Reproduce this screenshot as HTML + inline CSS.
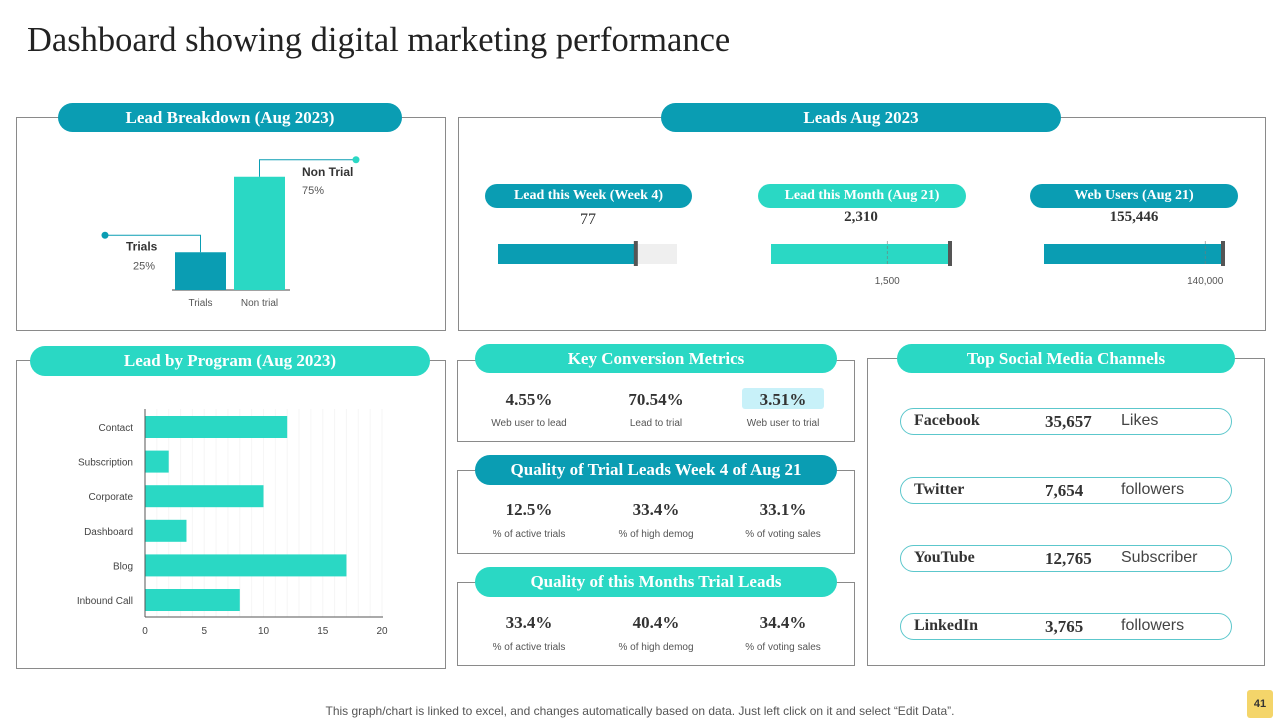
<!DOCTYPE html>
<html><head><meta charset="utf-8"><style>
body{margin:0;width:1280px;height:720px;background:#fff;position:relative;overflow:hidden;font-family:"Liberation Sans",sans-serif;color:#333}
.a{position:absolute}
.box{position:absolute;border:1px solid #8a8a8a;box-sizing:border-box}
.pill{position:absolute;border-radius:16px;color:#fff;font-family:"Liberation Serif",serif;font-weight:bold;display:flex;align-items:center;justify-content:center;font-size:17px;white-space:nowrap}
.dk{background:#0a9db3}.lt{background:#2ad8c4}
.val{position:absolute;font-family:"Liberation Serif",serif;font-weight:bold;font-size:17px;color:#333;text-align:center;width:120px;transform:translateX(-60px)}
.lab{position:absolute;font-size:10px;color:#555;text-align:center;width:140px;transform:translateX(-70px)}
.sp{position:absolute;left:900px;width:332px;height:27px;border:1px solid #5cc7cc;border-radius:14px;box-sizing:border-box}
.sp span{position:absolute;top:3px;font-size:16px}
.sn{left:13px;font-family:"Liberation Serif",serif;font-weight:bold;color:#333}
.sv{left:144px;font-family:"Liberation Serif",serif;font-weight:bold;color:#333}
.su{left:220px;color:#444}
</style></head><body>
<div class="a" style="left:27px;top:21px;font-family:'Liberation Serif',serif;font-size:34.5px;color:#222">Dashboard showing digital marketing performance</div>

<div class="box" style="left:16px;top:117px;width:430px;height:214px"></div>
<div class="pill dk" style="left:58px;top:103px;width:344px;height:29px">Lead Breakdown (Aug 2023)</div>
<svg class="a" id="lb" style="left:0;top:0" width="450" height="335"></svg>

<div class="box" style="left:458px;top:117px;width:808px;height:214px"></div>
<div class="pill dk" style="left:661px;top:103px;width:400px;height:29px">Leads Aug 2023</div>
<div class="pill dk" style="left:485px;top:184px;width:207px;height:24px;font-size:14px;border-radius:12px">Lead this Week (Week 4)</div>
<div class="pill lt" style="left:758px;top:184px;width:208px;height:24px;font-size:14px;border-radius:12px">Lead this Month (Aug 21)</div>
<div class="pill dk" style="left:1030px;top:184px;width:208px;height:24px;font-size:14px;border-radius:12px">Web Users (Aug 21)</div>
<div class="val" style="left:588px;top:211px;font-weight:normal;font-size:16px">77</div>
<div class="val" style="left:861px;top:209px;font-size:15px">2,310</div>
<div class="val" style="left:1134px;top:209px;font-size:15px">155,446</div>
<svg class="a" id="bul" style="left:0;top:0" width="1280" height="300"></svg>

<div class="box" style="left:16px;top:360px;width:430px;height:309px"></div>
<div class="pill lt" style="left:30px;top:346px;width:400px;height:30px">Lead by Program (Aug 2023)</div>
<svg class="a" id="lp" style="left:0;top:380px" width="450" height="270"></svg>

<div class="box" style="left:457px;top:360px;width:398px;height:82px"></div>
<div class="pill lt" style="left:475px;top:344px;width:362px;height:29px">Key Conversion Metrics</div>
<div class="a" style="left:742px;top:388px;width:82px;height:21px;background:#c8f1f9;border-radius:3px"></div>
<div class="val" style="left:529px;top:390px">4.55%</div>
<div class="val" style="left:656px;top:390px">70.54%</div>
<div class="val" style="left:783px;top:390px">3.51%</div>
<div class="lab" style="left:529px;top:418px">Web user to lead</div>
<div class="lab" style="left:656px;top:418px">Lead to trial</div>
<div class="lab" style="left:783px;top:418px">Web user to trial</div>

<div class="box" style="left:457px;top:470px;width:398px;height:84px"></div>
<div class="pill dk" style="left:475px;top:455px;width:362px;height:30px">Quality of Trial Leads Week 4 of Aug 21</div>
<div class="val" style="left:529px;top:500px">12.5%</div>
<div class="val" style="left:656px;top:500px">33.4%</div>
<div class="val" style="left:783px;top:500px">33.1%</div>
<div class="lab" style="left:529px;top:529px">% of active trials</div>
<div class="lab" style="left:656px;top:529px">% of high demog</div>
<div class="lab" style="left:783px;top:529px">% of voting sales</div>

<div class="box" style="left:457px;top:582px;width:398px;height:84px"></div>
<div class="pill lt" style="left:475px;top:567px;width:362px;height:30px">Quality of this Months Trial Leads</div>
<div class="val" style="left:529px;top:613px">33.4%</div>
<div class="val" style="left:656px;top:613px">40.4%</div>
<div class="val" style="left:783px;top:613px">34.4%</div>
<div class="lab" style="left:529px;top:642px">% of active trials</div>
<div class="lab" style="left:656px;top:642px">% of high demog</div>
<div class="lab" style="left:783px;top:642px">% of voting sales</div>

<div class="box" style="left:867px;top:358px;width:398px;height:308px"></div>
<div class="pill lt" style="left:897px;top:344px;width:338px;height:29px">Top Social Media Channels</div>
<div class="sp" style="top:408px"><span class="sn">Facebook</span><span class="sv" style="font-size:17px">35,657</span><span class="su">Likes</span></div>
<div class="sp" style="top:477px"><span class="sn">Twitter</span><span class="sv" style="font-size:17px">7,654</span><span class="su">followers</span></div>
<div class="sp" style="top:545px"><span class="sn">YouTube</span><span class="sv" style="font-size:17px">12,765</span><span class="su">Subscriber</span></div>
<div class="sp" style="top:613px"><span class="sn">LinkedIn</span><span class="sv" style="font-size:17px">3,765</span><span class="su">followers</span></div>

<div class="a" style="left:0;width:1280px;text-align:center;top:704px;font-size:12px;color:#555">This graph/chart is linked to excel, and changes automatically based on data. Just left click on it and select “Edit Data”.</div>
<div class="a" style="left:1247px;top:690px;width:26px;height:28px;background:#f4d56a;border-radius:3px;font-size:11px;font-weight:bold;display:flex;align-items:center;justify-content:center;color:#333">41</div>

<script>
const NS="http://www.w3.org/2000/svg";
function mk(p,t,a,txt){const e=document.createElementNS(NS,t);for(const k in a)e.setAttribute(k,a[k]);if(txt!==undefined)e.textContent=txt;p.appendChild(e);return e;}
const DK="#0a9db3",LT="#2ad8c4";

// Lead breakdown
const lbCats=["Trials","Non trial"];
const lbVals=[25,75];
const lbNames=["Trials","Non Trial"];
const lb=document.getElementById('lb');
const lbBase=290,lbScale=1.51,lbX=[175,234],lbW=51;
mk(lb,'line',{x1:172,x2:290,y1:lbBase,y2:lbBase,stroke:'#444','stroke-width':1});
lbVals.forEach((v,i)=>{
  const top=lbBase-v*lbScale,cx=lbX[i]+lbW/2;
  const r=mk(lb,'rect',{x:lbX[i],y:top,width:lbW,height:v*lbScale,fill:i?LT:DK});
  
  
  mk(lb,'text',{x:cx,y:306,'text-anchor':'middle','font-size':10,fill:'#555'},lbCats[i]);
  const ly=top-17;
  if(i==0){
    mk(lb,'polyline',{points:`${cx},${top} ${cx},${ly} 105,${ly}`,fill:'none',stroke:DK,'stroke-width':1});
    mk(lb,'circle',{cx:105,cy:ly,r:3.5,fill:DK});
    mk(lb,'text',{x:126,y:ly+15,'font-size':12,'font-weight':'bold',fill:'#333'},lbNames[i]);
    mk(lb,'text',{x:133,y:ly+34,'font-size':11,fill:'#555'},v+'%');
  }else{
    mk(lb,'polyline',{points:`${cx},${top} ${cx},${ly} 356,${ly}`,fill:'none',stroke:DK,'stroke-width':1});
    mk(lb,'circle',{cx:356,cy:ly,r:3.5,fill:LT});
    mk(lb,'text',{x:302,y:ly+16,'font-size':12,'font-weight':'bold',fill:'#333'},lbNames[i]);
    mk(lb,'text',{x:302,y:ly+34,'font-size':11,fill:'#555'},v+'%');
  }
});

// Bullets
const bulVals=[77,2310,155446];
const bulMax=[100,2310,155446];
const bulTargets=[null,1500,140000];
const bulTickLabels=["","1,500","140,000"];
const bul=document.getElementById('bul');
const bx=[498,771,1044],bwFull=[179,179,179],bColors=[DK,LT,DK];
bulVals.forEach((v,i)=>{
  const sc=x=>bx[i]+x/bulMax[i]*bwFull[i];
  if(i==0)mk(bul,'rect',{x:bx[i],y:244,width:bwFull[i],height:20,fill:'#efefef'});
  const r=mk(bul,'rect',{x:bx[i],y:244,width:sc(v)-bx[i],height:20,fill:bColors[i]});
  
  
  mk(bul,'rect',{x:sc(v)-2,y:241,width:4,height:25,fill:'#555'});
  if(bulTargets[i]!==null){
    const tx=sc(bulTargets[i]);
    mk(bul,'line',{x1:tx,x2:tx,y1:241,y2:266,stroke:'#777','stroke-width':0.6,'stroke-dasharray':'3,2'});
    mk(bul,'text',{x:tx,y:284,'text-anchor':'middle','font-size':10,fill:'#555'},bulTickLabels[i]);
  }
});

// Lead by program
const lpCats=["Contact","Subscription","Corporate","Dashboard","Blog","Inbound Call"];
const lpVals=[12,2,10,3.5,17,8];
const lpTicks=[0,5,10,15,20];
const lp=document.getElementById('lp');
const x0=145,pxu=(382-145)/20,yTop=29,step=34.6,bh=22;
const xs=v=>x0+v*pxu;
for(let v=1;v<=20;v++)mk(lp,'line',{x1:xs(v),x2:xs(v),y1:yTop,y2:237,stroke:'#f6f6f6','stroke-width':1});
lpVals.forEach((v,i)=>{
  const y=yTop+7+i*step;
  const r=mk(lp,'rect',{x:x0,y:y,width:xs(v)-x0,height:bh,fill:LT});
  
  
  mk(lp,'text',{x:133,y:y+15,'text-anchor':'end','font-size':10,fill:'#444'},lpCats[i]);
});
mk(lp,'line',{x1:x0,x2:x0,y1:yTop,y2:237,stroke:'#555','stroke-width':1});
mk(lp,'line',{x1:x0,x2:383,y1:237,y2:237,stroke:'#555','stroke-width':1});
lpTicks.forEach(t=>mk(lp,'text',{x:xs(t),y:254,'text-anchor':'middle','font-size':10,fill:'#444'},String(t)));
</script>
</body></html>
